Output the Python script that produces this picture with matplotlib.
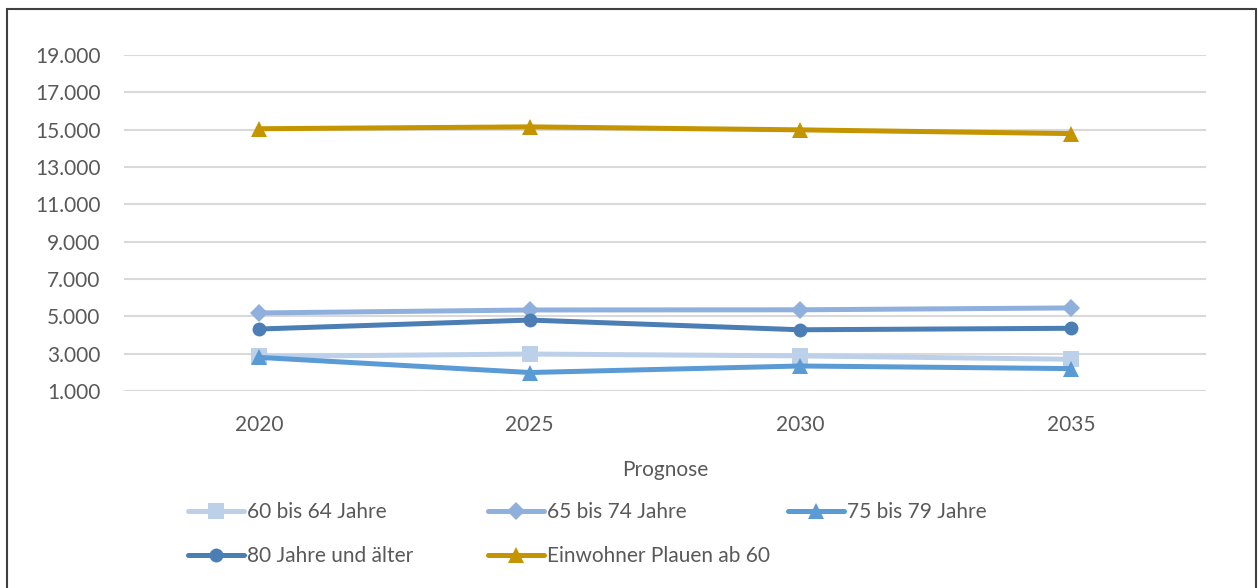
import matplotlib.pyplot as plt
import matplotlib.patches as mpatches
from matplotlib.ticker import FuncFormatter

plt.rcParams['font.family'] = ['Lato', 'DejaVu Sans']

# Daten
jahre = ['2020', '2025', '2030', '2035']
s60_64 = [2850, 2980, 2880, 2700]
s65_74 = [5180, 5340, 5350, 5450]
s75_79 = [2800, 1990, 2340, 2200]
s80 = [4320, 4800, 4280, 4360]
einwohner = [15050, 15150, 14990, 14790]

namen = ['60 bis 64 Jahre', '65 bis 74 Jahre', '75 bis 79 Jahre',
         '80 Jahre und älter', 'Einwohner Plauen ab 60']
reihen = [s60_64, s65_74, s75_79, s80, einwohner]
farben = ['#BDD0EA', '#8FB0DC', '#5B9BD5', '#4A7EB4', '#C49500']
marker = ['s', 'D', '^', 'o', '^']
msize = [11, 9, 11, 10, 11]

fig = plt.figure(figsize=(12.58, 5.88), dpi=100)
fig.set_facecolor('white')
ax = fig.add_axes([124/1258, 1-391/588, (1206-124)/1258, (391-55)/588])

x = range(len(jahre))
linien = []
for werte, name, f, m, ms in zip(reihen, namen, farben, marker, msize):
    l, = ax.plot(x, werte, color=f, lw=3.6, marker=m, markersize=ms,
                 markeredgewidth=0, label=name, solid_capstyle='round')
    linien.append(l)

ax.set_xlim(-0.5, len(jahre) - 0.5)
ax.set_ylim(1000, 19000)
ax.set_yticks(range(1000, 19001, 2000))
ax.yaxis.set_major_formatter(FuncFormatter(lambda v, p: f'{int(v):,}'.replace(',', '.')))
ax.set_xticks(list(x))
ax.set_xticklabels(jahre)
ax.grid(axis='y', color='#D9D9D9', lw=1.5)
ax.set_axisbelow(True)
for s in ax.spines.values():
    s.set_visible(False)
ax.tick_params(length=0, labelsize=15, labelcolor='#595959')
ax.tick_params(axis='y', pad=17)
ax.tick_params(axis='x', pad=17)
ax.set_xlabel('Prognose', fontsize=15, color='#595959', labelpad=18)

# Legende (gleich breite Spalten wie in Excel)
pos = [(188, 512), (488, 512), (788, 512), (188, 556), (488, 556)]
for l, name, (px, py) in zip(linien, namen, pos):
    leg = fig.legend([l], [name], loc='center left',
                     bbox_to_anchor=(px/1258, 1-py/588), frameon=False,
                     fontsize=15, handlelength=2.7, handletextpad=0.15,
                     borderaxespad=0, borderpad=0, labelcolor='#595959')

# Rahmen
fig.patches.append(mpatches.Rectangle((7/1258, -0.02), (1256-7)/1258, (588-9)/588 + 0.02,
                                      transform=fig.transFigure, fill=False,
                                      edgecolor='#404040', lw=1.5))

fig.savefig('out.png', dpi=100, facecolor='white')
